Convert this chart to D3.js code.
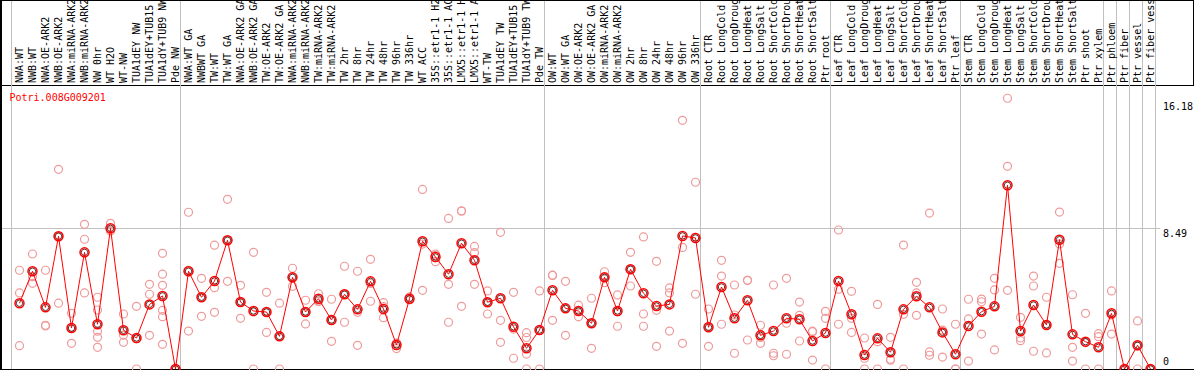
<!DOCTYPE html>
<html>
<head>
<meta charset="utf-8">
<script src="https://cdn.jsdelivr.net/npm/d3@7"></script>
<style>
  html, body { margin: 0; padding: 0; background: #fff; }
  svg { display: block; }
  text { font-family: "DejaVu Sans Mono", monospace; font-size: 10px; }
</style>
</head>
<body>
<div id="plot01"></div>
<script>
var geneName = 'Potri.008G009201';

var categories = [
  'NWA:WT', 'NWB:WT', 'NWA:OE-ARK2', 'NWB:OE-ARK2', 'NWA:miRNA-ARK2', 'NWB:miRNA-ARK2',
  'NW 0hr', 'WT H2O', 'WT-NW', 'TUA1dEY NW', 'TUA1dEY+TUB15 NW', 'TUA1dY+TUB9 NW', 'Pde NW',
  'NWA:WT GA', 'NWBWT GA', 'TW:WT', 'TW:WT GA', 'NWA:OE-ARK2 GA', 'NWB:OE-ARK2 GA',
  'TW:OE-ARK2', 'TW:OE-ARK2 GA', 'NWA:miRNA-ARK2 GA', 'NWB:miRNA-ARK2 GA', 'TW:miRNA-ARK2',
  'TW:miRNA-ARK2 GA', 'TW 2hr', 'TW 8hr', 'TW 24hr', 'TW 48hr', 'TW 96hr', 'TW 336hr', 'WT ACC',
  '35S::etr1-1 H2O', '35S::etr1-1 ACC', 'LMX5::etr1-1 H2O', 'LMX5::etr1-1 ACC', 'WT-TW',
  'TUA1dEY TW', 'TUA1dEY+TUB15 TW', 'TUA1dY+TUB9 TW', 'Pde TW',
  'OW:WT', 'OW:WT GA', 'OW:OE-ARK2', 'OW:OE-ARK2 GA', 'OW:miRNA-ARK2', 'OW:miRNA-ARK2 GA',
  'OW 2hr', 'OW 8hr', 'OW 24hr', 'OW 48hr', 'OW 96hr', 'OW 336hr',
  'Root CTR', 'Root LongCold', 'Root LongDrought', 'Root LongHeat', 'Root LongSalt',
  'Root ShortCold', 'Root ShortDrought', 'Root ShortHeat', 'Root ShortSalt', 'Ptr root',
  'Leaf CTR', 'Leaf LongCold', 'Leaf LongDrought', 'Leaf LongHeat', 'Leaf LongSalt',
  'Leaf ShortCold', 'Leaf ShortDrought', 'Leaf ShortHeat', 'Leaf ShortSalt', 'Ptr leaf',
  'Stem CTR', 'Stem LongCold', 'Stem LongDrought', 'Stem LongHeat', 'Stem LongSalt',
  'Stem ShortCold', 'Stem ShortDrought', 'Stem ShortHeat', 'Stem ShortSalt', 'Ptr shoot', 'Ptr xylem',
  'Ptr phloem', 'Ptr fiber', 'Ptr vessel', 'Ptr fiber vessel'
];

// number of samples in each experiment block
var groupSizes = [13, 28, 12, 10, 10, 11, 1, 1, 1, 1];

var means = [
  3.97, 5.90, 3.72, 8.01, 2.47, 7.04, 2.70, 8.49, 2.34, 1.87, 3.90, 4.41, 0,
  5.90, 4.33, 5.31, 7.77, 4.04, 3.50, 3.44, 1.97, 5.53, 3.44, 4.24, 2.96, 4.51, 3.60, 5.29,
  3.62, 1.45, 4.24, 7.71, 6.76, 5.72, 7.59, 6.56, 4.03, 4.27, 2.55, 1.25, 2.35,
  4.75, 3.66, 3.50, 2.76, 5.53, 3.50, 6.02, 4.57, 3.80, 3.90, 8.03, 7.91,
  2.52, 4.95, 3.06, 4.15, 2.03, 2.29, 3.06, 3.00, 1.69, 2.17,
  5.31, 3.30, 0.84, 1.85, 1.01, 3.60, 4.39, 3.72, 2.21, 0.89,
  2.60, 3.46, 3.78, 11.09, 2.29, 3.86, 2.66, 7.80, 2.09, 1.65, 1.31,
  3.36, 0, 1.43, 0
];

var replicates = [
  [5.96, 4.59, 1.41], [6.94, 5.57, 5.17], [5.96, 2.64, 2.60], [12.05, 3.97, 8.01],
  [3.36, 1.55, 2.50], [8.73, 7.83, 4.59], [4.33, 3.56, 2.28, 1.91, 1.31], [8.79, 8.33, 8.35],
  [3.32, 2.05, 1.61], [3.78, 0, 1.83], [5.11, 4.51, 2.03], [6.98, 5.72, 5.05, 3.54, 3.16, 1.49],
  [0, 0, 0],
  [9.46, 2.29, 5.95], [5.47, 3.18, 4.33], [7.47, 4.91, 3.42], [10.24, 5.29, 7.77],
  [5.05, 3.06, 4.04], [7.04, 0, 3.46], [4.63, 2.21, 3.44], [3.97, 0, 1.97],
  [6.08, 4.99, 5.53], [4.15, 2.72, 3.44], [4.54, 4.10, 4.08], [4.21, 1.67, 2.96],
  [6.20, 2.82, 4.51], [5.90, 3.42, 1.43], [6.62, 4.09, 5.16], [4.00, 3.10, 3.76],
  [1.23, 1.57, 1.55], [4.35, 4.20, 4.17], [10.84, 4.75, 7.54], [6.94, 6.48, 6.86],
  [9.09, 5.11, 2.82], [9.55, 9.52, 3.78], [7.40, 7.02, 5.11], [4.71, 3.32, 4.06],
  [8.25, 2.94, 1.61], [4.63, 2.41, 0.65], [2.19, 1.90, 0.90, 0], [4.71, 0, 2.34],
  [5.65, 2.94, 5.66], [5.29, 2.03, 3.66], [3.85, 3.50, 3.15], [4.27, 1.25, 2.76],
  [5.87, 5.21, 5.51], [4.47, 2.58, 3.45], [7.04, 5.01, 6.01], [7.97, 3.32, 2.58],
  [6.50, 3.54, 1.37], [4.89, 4.59, 2.29], [15.01, 7.34, 1.55], [11.27, 4.51, 7.95],
  [3.62, 1.37, 2.57], [6.56, 5.61, 2.70], [5.07, 3.26, 0.95], [5.35, 5.35, 1.75],
  [2.64, 1.55, 1.90], [5.07, 0.95, 0.80], [5.47, 2.76, 0.89], [4.04, 3.24, 1.69],
  [2.25, 0.54, 2.28], [3.48, 3.06, 0],
  [8.39, 4.81, 2.70], [4.69, 3.06, 2.21], [1.87, 0.65, 0], [3.90, 0, 1.65],
  [1.91, 0.59, 0.53], [7.48, 3.30, 0], [5.23, 4.59, 3.24], [9.41, 1.03, 0.83],
  [3.62, 2.35, 0.72], [2.70, 0, 0],
  [4.21, 3.02, 0.48], [4.22, 4.06, 2.11], [5.47, 4.77, 1.15], [16.34, 12.23, 4.75],
  [3.12, 1.87, 1.71], [5.61, 5.01, 1.07], [4.33, 0.97, 2.68], [9.47, 6.38, 7.55],
  [4.48, 1.31, 0.48], [3.36, 0, 1.59], [2.13, 1.95, 0],
  [4.71, 2.11, 3.26], [0, 0, 0], [2.90, 0, 1.39], [0, 0, 0]
];

var yTickValues = [16.18, 8.49, 0];

var W = 1194, H = 370;
var headerBottom = 85.5, plotBottom = 369.5;

var svg = d3.select('#plot01').append('svg')
  .attr('width', W)
  .attr('height', H);

var x = d3.scaleBand()
  .domain(d3.range(categories.length))
  .range([11.5, 11.5 + 13 * categories.length])
  .padding(0);

var px = function(i) { return x(i) + 8; };

var y = d3.scaleLinear()
  .domain([0, 16.18])
  .range([369, 100.9]);

// frame: top, left, bottom lines, header box
svg.append('line')
  .attr('x1', 0).attr('x2', W)
  .attr('y1', 0.5).attr('y2', 0.5)
  .attr('stroke', '#000');
svg.append('line')
  .attr('x1', 0).attr('x2', W)
  .attr('y1', headerBottom).attr('y2', headerBottom)
  .attr('stroke', '#000');
svg.append('line')
  .attr('x1', 0).attr('x2', W)
  .attr('y1', plotBottom).attr('y2', plotBottom)
  .attr('stroke', '#000');
svg.append('rect')
  .attr('x', 0).attr('y', 0)
  .attr('width', 2).attr('height', H)
  .attr('fill', '#000');
svg.append('line')
  .attr('x1', 1193.5).attr('x2', 1193.5)
  .attr('y1', 0).attr('y2', headerBottom)
  .attr('stroke', '#000');

// group separators
var starts = [0];
groupSizes.forEach(function(n) { starts.push(starts[starts.length - 1] + n); });
svg.append('g').attr('class', 'separators')
  .selectAll('line')
  .data(starts)
  .enter()
  .append('line')
  .attr('x1', function(k) { return k < categories.length ? x(k) : x(k - 1) + 13; })
  .attr('x2', function(k) { return k < categories.length ? x(k) : x(k - 1) + 13; })
  .attr('y1', 1).attr('y2', 369)
  .attr('stroke', '#c0c0c0');

// grid line at middle tick
svg.append('line')
  .attr('x1', 2).attr('x2', 1160)
  .attr('y1', Math.round(y(8.49)) + 0.5).attr('y2', Math.round(y(8.49)) + 0.5)
  .attr('stroke', '#c0c0c0');

// sample labels, rotated
svg.append('g').attr('class', 'labels')
  .selectAll('text')
  .data(categories)
  .enter()
  .append('text')
  .attr('transform', function(d, i) { return 'translate(' + (px(i) + 3) + ',83) rotate(-90)'; })
  .attr('fill', '#000')
  .text(function(d) { return d; });

// y tick labels on the right
svg.append('g').attr('class', 'yticks')
  .selectAll('text')
  .data(yTickValues)
  .enter()
  .append('text')
  .attr('x', 1163)
  .attr('y', function(d) { return Math.min(y(d) + 9, 365); })
  .attr('fill', '#000')
  .text(function(d) { return d; });

// title
svg.append('text')
  .attr('x', 9.5).attr('y', 101)
  .attr('fill', '#ff0000')
  .text(geneName);

// replicate points
var repPoints = [];
replicates.forEach(function(arr, i) {
  arr.forEach(function(v) { repPoints.push({ i: i, v: v }); });
});
svg.append('g').attr('class', 'reps')
  .selectAll('circle')
  .data(repPoints)
  .enter()
  .append('circle')
  .attr('cx', function(d) { return px(d.i); })
  .attr('cy', function(d) { return y(d.v); })
  .attr('r', 4)
  .attr('fill', 'none')
  .attr('stroke', '#ee9a9a')
  .attr('stroke-width', 1.2);

// mean markers
var meanG = svg.append('g').attr('class', 'means');
meanG.selectAll('circle.outer')
  .data(means)
  .enter()
  .append('circle')
  .attr('class', 'outer')
  .attr('cx', function(d, i) { return px(i); })
  .attr('cy', function(d) { return y(d); })
  .attr('r', 4.5)
  .attr('fill', 'none')
  .attr('stroke', '#ff0000')
  .attr('stroke-width', 1.5);
meanG.selectAll('circle.inner')
  .data(means)
  .enter()
  .append('circle')
  .attr('class', 'inner')
  .attr('cx', function(d, i) { return px(i); })
  .attr('cy', function(d) { return y(d); })
  .attr('r', 3.2)
  .attr('fill', 'none')
  .attr('stroke', '#300000')
  .attr('stroke-width', 0.8);

// mean line
var line = d3.line()
  .x(function(d, i) { return px(i); })
  .y(function(d) { return y(d); });
svg.append('path')
  .datum(means)
  .attr('d', line)
  .attr('fill', 'none')
  .attr('stroke', '#ff0000')
  .attr('stroke-width', 1);
</script>
</body>
</html>
